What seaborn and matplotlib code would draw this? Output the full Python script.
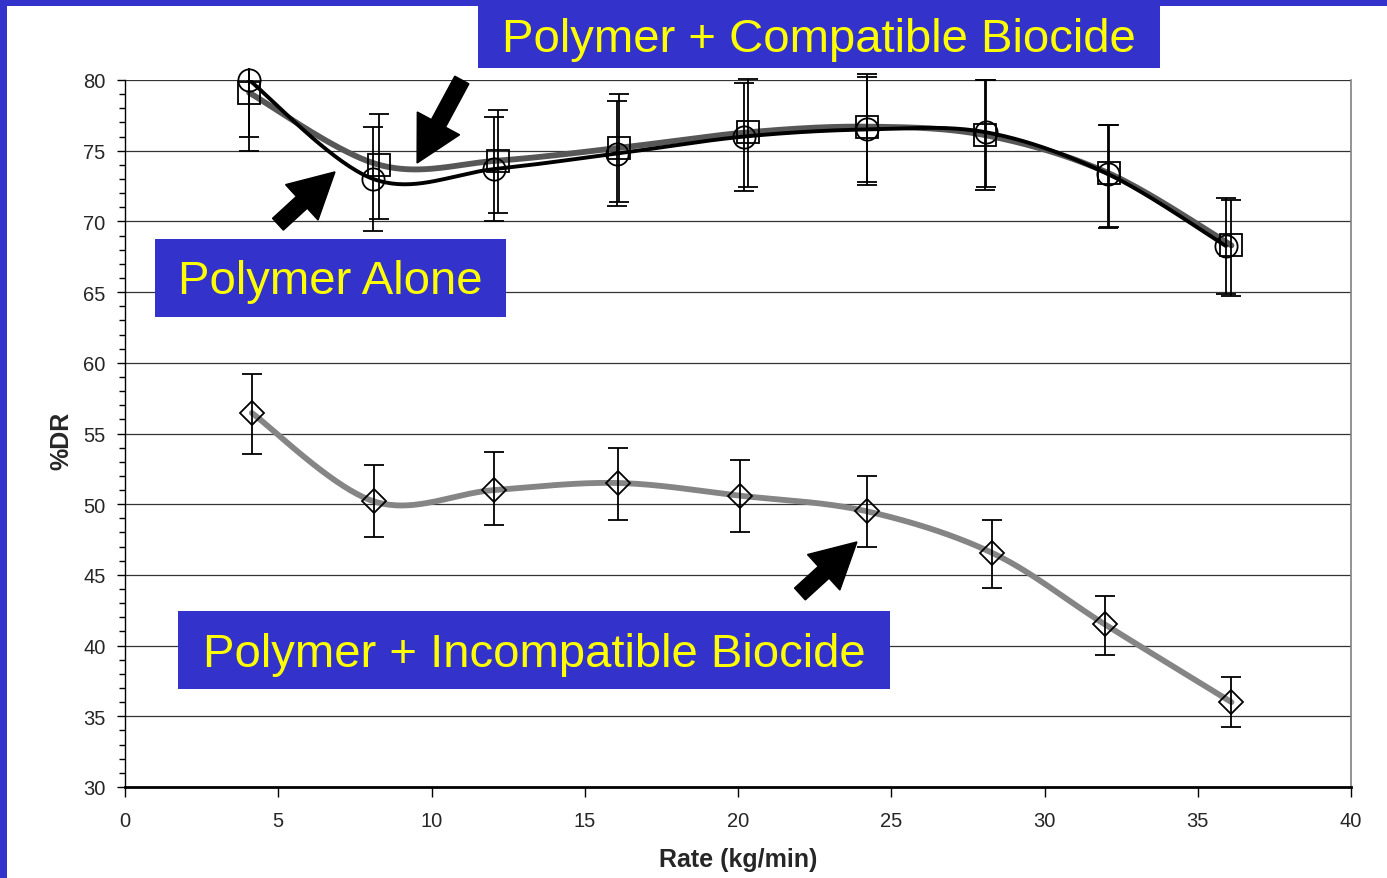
import numpy as np
import pandas as pd
import matplotlib
matplotlib.use("Agg")
import matplotlib.pyplot as plt
import seaborn as sns
from matplotlib.patches import Rectangle, FancyArrow
from matplotlib.transforms import IdentityTransform, Bbox

# ---------------- data ----------------
alone_x = [4.05, 8.1, 12.05, 16.05, 20.2, 24.2, 28.1, 32.07, 35.92]
alone_y = [80.0, 73.0, 73.7, 74.8, 76.0, 76.5, 76.3, 73.35, 68.26]
alone_lo = [75.0, 69.3, 70.0, 71.1, 72.15, 72.6, 72.4, 69.5, 64.85]
alone_hi = [85.0, 76.7, 77.4, 78.5, 79.8, 80.2, 80.0, 76.8, 71.65]

compat_x = [4.05, 8.29, 12.17, 16.12, 20.33, 24.21, 28.06, 32.1, 36.1]
compat_y = [79.1, 74.0, 74.3, 75.2, 76.3, 76.7, 76.1, 73.4, 68.3]
compat_lo = [76.0, 70.2, 70.6, 71.4, 72.4, 72.8, 72.2, 69.6, 64.7]
compat_hi = [82.2, 77.6, 77.9, 79.0, 80.1, 80.4, 80.0, 76.8, 71.5]

incomp_x = [4.14, 8.12, 12.04, 16.08, 20.07, 24.2, 28.3, 31.97, 36.1]
incomp_y = [56.45, 50.2, 51.0, 51.5, 50.6, 49.5, 46.55, 41.5, 36.0]
incomp_lo = [53.55, 47.7, 48.5, 48.9, 48.0, 47.0, 44.1, 39.3, 34.25]
incomp_hi = [59.2, 52.8, 53.7, 54.0, 53.1, 52.0, 48.9, 43.5, 37.8]

x_ticks = [0, 5, 10, 15, 20, 25, 30, 35, 40]
y_ticks = [30, 35, 40, 45, 50, 55, 60, 65, 70, 75, 80]

label_compat = "Polymer + Compatible Biocide"
label_alone = "Polymer Alone"
label_incomp = "Polymer + Incompatible Biocide"
x_label = "Rate (kg/min)"
y_label = "%DR"

# ---------------- style ----------------
sns.set_style("white")
plt.rcParams['font.family'] = ['Liberation Sans', 'DejaVu Sans']

W, H = 1387, 879
fig = plt.figure(figsize=(W / 100, H / 100), dpi=100)
fig.patch.set_facecolor('white')
BLUE = '#3333CC'

def px_axes(l, t, r, b):
    return [l / W, 1 - b / H, (r - l) / W, (b - t) / H]

ax = fig.add_axes(px_axes(125, 81, 1351, 788))
ax.set_xlim(0, 40)
ax.set_ylim(30, 80)


def smooth(xs, ys, n=40):
    """Excel-like smoothed line (Catmull-Rom Bezier) for rendering."""
    P = np.column_stack([xs, ys]).astype(float)
    m = len(P)
    out = []
    for i in range(m - 1):
        p0 = P[i]
        p3 = P[i + 1]
        pm = P[i - 1] if i > 0 else P[i]
        pp = P[i + 2] if i + 2 < m else P[i + 1]
        c1 = p0 + (p3 - pm) / 6.0
        c2 = p3 - (pp - p0) / 6.0
        t = np.linspace(0, 1, n)[:, None]
        seg = ((1 - t) ** 3) * p0 + 3 * ((1 - t) ** 2) * t * c1 + 3 * (1 - t) * t ** 2 * c2 + t ** 3 * p3
        out.append(seg if i == 0 else seg[1:])
    s = np.vstack(out)
    return pd.DataFrame({'x': s[:, 0], 'y': s[:, 1]})

sc = smooth(compat_x, compat_y)
sa = smooth(alone_x, alone_y)
si = smooth(incomp_x, incomp_y)

sns.lineplot(data=sc, x='x', y='y', sort=False, estimator=None, ax=ax,
             color='#575757', linewidth=4.2, zorder=2)
sns.lineplot(data=sa, x='x', y='y', sort=False, estimator=None, ax=ax,
             color='black', linewidth=2.8, zorder=2.5)
sns.lineplot(data=si, x='x', y='y', sort=False, estimator=None, ax=ax,
             color='#858585', linewidth=4.2, zorder=2)

fig.canvas.draw()
ab = ax.get_window_extent()
clip_bb = Bbox.from_extents(ab.x0 - 5, ab.y0 - 5, ab.x1 + 5, ab.y1 + 12)

def ebar(xs, ys, lo, hi, marker, ms):
    ys = np.array(ys)
    yerr = np.vstack([ys - np.array(lo), np.array(hi) - ys])
    line, caps, bars = ax.errorbar(xs, ys, yerr=yerr, fmt=marker, ms=ms, mfc='none',
                                   mec='black', mew=1.3, ecolor='black', elinewidth=1.3,
                                   capsize=7, capthick=1.3, zorder=3)
    line.set_clip_on(False)
    for a in list(caps) + list(bars):
        a.set_clip_box(clip_bb)

ebar(alone_x, alone_y, alone_lo, alone_hi, 'o', 16)
ebar(compat_x, compat_y, compat_lo, compat_hi, 's', 16)
ebar(incomp_x, incomp_y, incomp_lo, incomp_hi, 'D', 12)

# ---------------- axes styling ----------------
ax.set_xticks(x_ticks)
ax.set_yticks(y_ticks)
ax.set_xticklabels([str(v) for v in x_ticks])
ax.set_yticklabels([str(v) for v in y_ticks])
ax.yaxis.set_minor_locator(matplotlib.ticker.MultipleLocator(1))
ax.tick_params(axis='y', which='major', direction='out', length=6, width=1,
               color='black', labelsize=14.5, pad=8, left=True)
ax.tick_params(axis='y', which='minor', direction='out', length=4, width=1,
               color='black', left=True)
ax.tick_params(axis='x', which='major', direction='out', length=7, width=1,
               color='black', labelsize=14.5, pad=10, bottom=True)
for yv in y_ticks[1:]:
    ax.axhline(yv, color='#333333', linewidth=0.9, zorder=1)
ax.spines['left'].set_color('black')
ax.spines['left'].set_linewidth(1.0)
ax.spines['bottom'].set_color('black')
ax.spines['bottom'].set_linewidth(2.0)
ax.spines['right'].set_color('#808080')
ax.spines['right'].set_linewidth(1.2)
ax.spines['top'].set_visible(False)

ax.set_xlabel(x_label, fontsize=18, fontweight='bold')
ax.set_ylabel(y_label, fontsize=18, fontweight='bold')
ax.xaxis.set_label_coords(0.5, -(848 - 788) / 707)
ax.yaxis.set_label_coords(-(125 - 73) / 1226, (788 - 441) / 707)

# ---------------- slide border & text boxes ----------------
def fig_rect(l, t, r, b, **kw):
    fig.patches.append(Rectangle((l / W, 1 - b / H), (r - l) / W, (b - t) / H,
                                 transform=fig.transFigure, **kw))

fig_rect(0, 0, 7, H, facecolor=BLUE, edgecolor='none', zorder=0)
fig_rect(0, 0, W, 7, facecolor=BLUE, edgecolor='none', zorder=0)

boxes = [
    (label_compat, 478, 0, 1160, 69, 5),
    (label_alone, 155, 240, 506, 318, 3),
    (label_incomp, 178, 612, 890, 690, 4),
]
for txt, l, t, r, b, dy in boxes:
    fig_rect(l, t, r, b, facecolor=BLUE, edgecolor='none', zorder=5)
    fig.text((l + r) / 2 / W, 1 - ((t + b) / 2 + dy) / H, txt, color='#FFFF00',
             fontsize=34, ha='center', va='center', zorder=6)

# ---------------- arrows (anchored in data coords) ----------------
arrows = [
    ((4.99, 69.8), (6.85, 73.5)),
    ((10.99, 80.0), (9.53, 74.13)),
    ((22.02, 43.65), (23.88, 47.33)),
]
for tail, tip in arrows:
    (x0, y0), (x1, y1) = ax.transData.transform([tail, tip])
    fig.patches.append(FancyArrow(x0, y0, x1 - x0, y1 - y0, width=16,
                                  head_width=48, head_length=45,
                                  length_includes_head=True, color='black',
                                  transform=IdentityTransform(), zorder=7))

fig.savefig('out.png', dpi=100, facecolor='white')
